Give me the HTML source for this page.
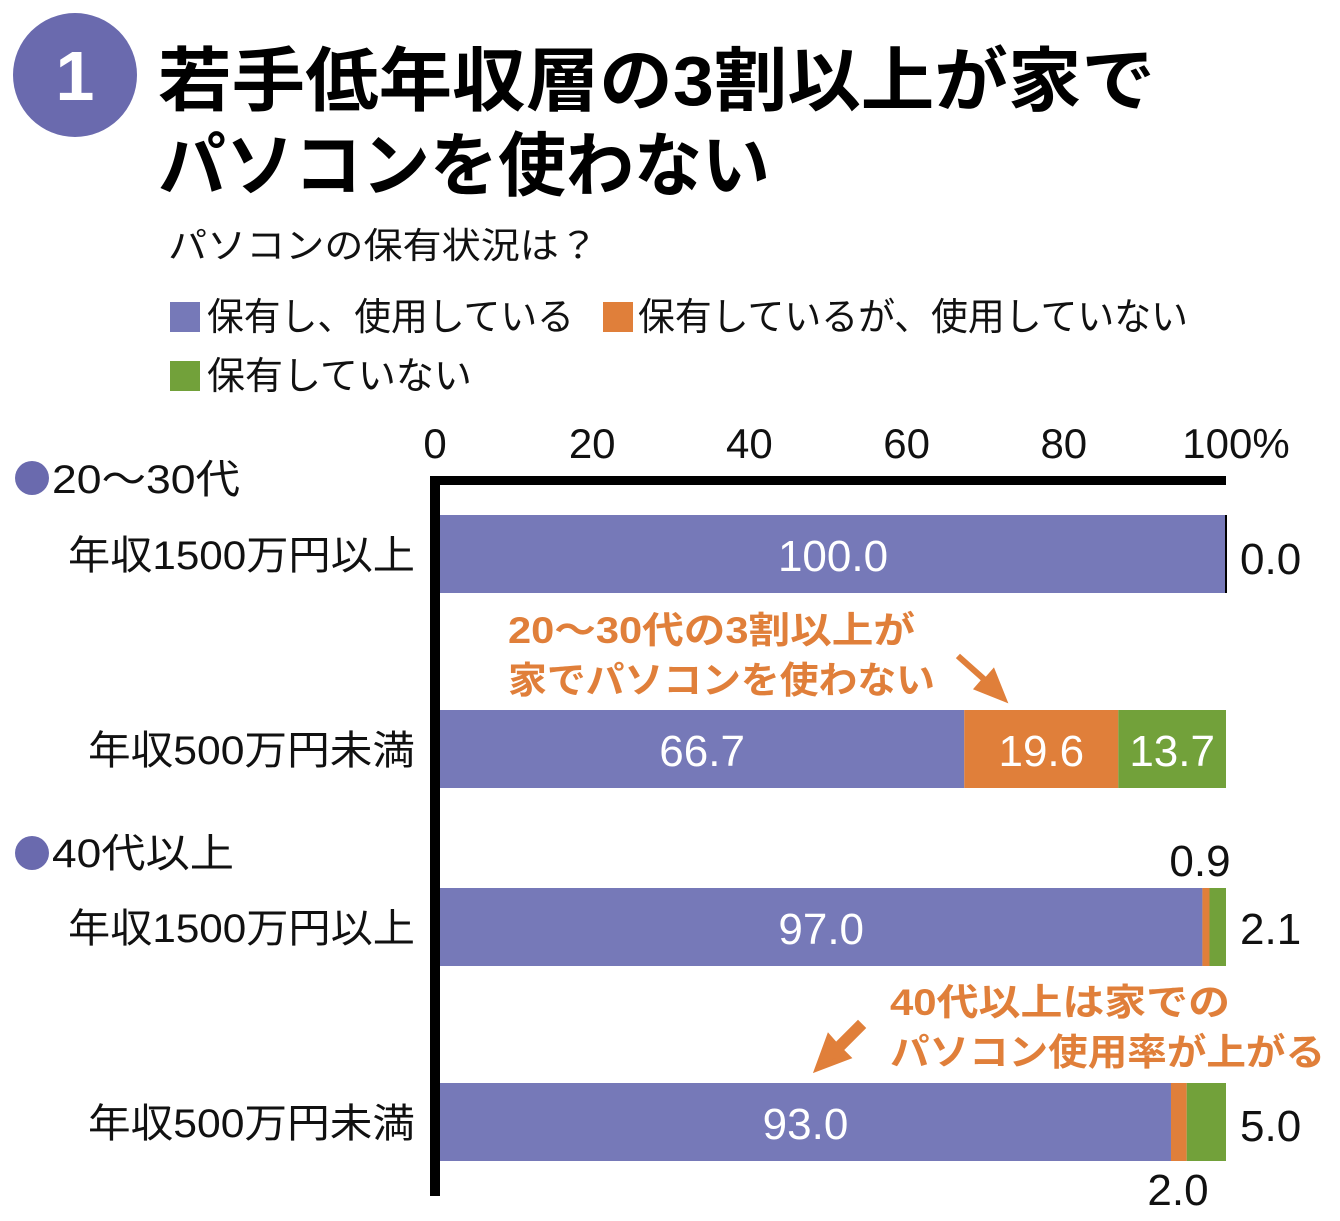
<!DOCTYPE html>
<html><head><meta charset="utf-8"><style>
body{margin:0;background:#fff;}
svg text{font-family:"Liberation Sans","Noto Sans CJK JP",sans-serif;}
</style></head><body>
<svg width="1340" height="1216" viewBox="0 0 1340 1216" xmlns="http://www.w3.org/2000/svg">
<circle cx="75" cy="75" r="62" fill="#6a6aae"/>
<text x="75" y="100" font-size="70" font-weight="bold" fill="#fff" text-anchor="middle">1</text>
<text x="158" y="105" font-size="70" font-weight="bold" fill="#000" textLength="997" lengthAdjust="spacingAndGlyphs">若手低年収層の3割以上が家で</text>
<text x="158" y="190" font-size="70" font-weight="bold" fill="#000" textLength="612" lengthAdjust="spacingAndGlyphs">パソコンを使わない</text>
<text x="168" y="258" font-size="36" fill="#111" textLength="430" lengthAdjust="spacingAndGlyphs">パソコンの保有状況は？</text>
<g>
<rect x="170" y="302" width="30" height="30" fill="#7679b8"/>
<text x="207" y="330" font-size="38" fill="#111" textLength="367" lengthAdjust="spacingAndGlyphs">保有し、使用している</text>
<rect x="603" y="302" width="30" height="30" fill="#e07f3a"/>
<text x="638" y="330" font-size="38" fill="#111" textLength="550" lengthAdjust="spacingAndGlyphs">保有しているが、使用していない</text>
<rect x="170" y="361" width="30" height="30" fill="#72a13a"/>
<text x="207" y="389" font-size="38" fill="#111">保有していない</text>
</g>
<g id="ticks"></g>
<rect x="430" y="476" width="796" height="9" fill="#000"/>
<rect x="430" y="476" width="10" height="720" fill="#000"/>
<circle cx="32" cy="478" r="17" fill="#6a6aae"/>
<text x="52" y="493" font-size="40" fill="#111" textLength="188" lengthAdjust="spacingAndGlyphs">20～30代</text>
<circle cx="32" cy="853" r="17" fill="#6a6aae"/>
<text x="52" y="867" font-size="40" fill="#111" textLength="182" lengthAdjust="spacingAndGlyphs">40代以上</text>
<g id="bars"></g>
<text x="508" y="643" font-size="37" font-weight="bold" fill="#e07f3a" textLength="407" lengthAdjust="spacingAndGlyphs">20～30代の3割以上が</text>
<text x="508" y="693" font-size="37" font-weight="bold" fill="#e07f3a" textLength="427" lengthAdjust="spacingAndGlyphs">家でパソコンを使わない</text>
<path d="M958 656 L985 680 L978 688 L1003 698 L993 673 L986 681 L959 657 Z" fill="#e07f3a" stroke="#e07f3a" stroke-width="6"/>
<text x="890" y="1015" font-size="37" font-weight="bold" fill="#e07f3a" textLength="340" lengthAdjust="spacingAndGlyphs">40代以上は家での</text>
<text x="890" y="1065" font-size="37" font-weight="bold" fill="#e07f3a" textLength="435" lengthAdjust="spacingAndGlyphs">パソコン使用率が上がる</text>
<path d="M858 1024 L836 1046 L829 1038 L818 1068 L847 1057 L840 1050 L862 1028 Z" fill="#e07f3a" stroke="#e07f3a" stroke-width="6"/>
</svg>
<script>
const categories=["年収1500万円以上","年収500万円未満","年収1500万円以上","年収500万円未満"];
const usedVals=[100.0,66.7,97.0,93.0];
const unusedVals=[0.0,19.6,0.9,2.0];
const noneVals=[0.0,13.7,2.1,5.0];
const tickLabels=["0","20","40","60","80","100%"];
const tickVals=[0,20,40,60,80,100];
const NS="http://www.w3.org/2000/svg";
const x=v=>440+v*7.86;
const barTops=[515,710,888,1083];const BH=78;
function mk(t,a,p){const e=document.createElementNS(NS,t);for(const k in a)e.setAttribute(k,a[k]);p.appendChild(e);return e;}
const tg=document.getElementById('ticks');
tickVals.forEach((v,i)=>{const t=mk('text',{x:x(v)-(i==5?-10:5),y:458,'font-size':42,fill:'#111','text-anchor':'middle'},tg);t.textContent=tickLabels[i];

});
const bg=document.getElementById('bars');
const cols=['#7679b8','#e07f3a','#72a13a'];
categories.forEach((c,i)=>{const y=barTops[i];
const l=mk('text',{x:415,y:y+54,'font-size':40,fill:'#111','text-anchor':'end',textLength:(c.length>9?347:327),lengthAdjust:'spacingAndGlyphs'},bg);l.textContent=c;


const vals=[usedVals[i],unusedVals[i],noneVals[i]];let acc=0;
vals.forEach((v,j)=>{if(v<=0)return;const r=mk('rect',{x:x(acc),y:y,width:x(acc+v)-x(acc),height:BH,fill:cols[j]},bg);


if(v>5){const t=mk('text',{x:(x(acc)+x(acc+v))/2,y:y+56,'font-size':44,fill:'#fff','text-anchor':'middle'},bg);t.textContent=v.toFixed(1);

}
acc+=v;});
if(i==0){mk('rect',{x:x(100)-1,y:y,width:2,height:BH,fill:'#000'},bg);}
});
function outLabel(txt,xx,yy,anchor){const t=mk('text',{x:xx,y:yy,'font-size':44,fill:'#111','text-anchor':anchor},bg);t.textContent=txt;

}
outLabel(noneVals[0].toFixed(1),1240,barTops[0]+59,'start');
outLabel(unusedVals[2].toFixed(1),1200,barTops[2]-12,'middle');
outLabel(noneVals[2].toFixed(1),1240,barTops[2]+56,'start');
outLabel(noneVals[3].toFixed(1),1240,barTops[3]+58,'start');
outLabel(unusedVals[3].toFixed(1),1178,barTops[3]+122,'middle');
</script>
</body></html>
